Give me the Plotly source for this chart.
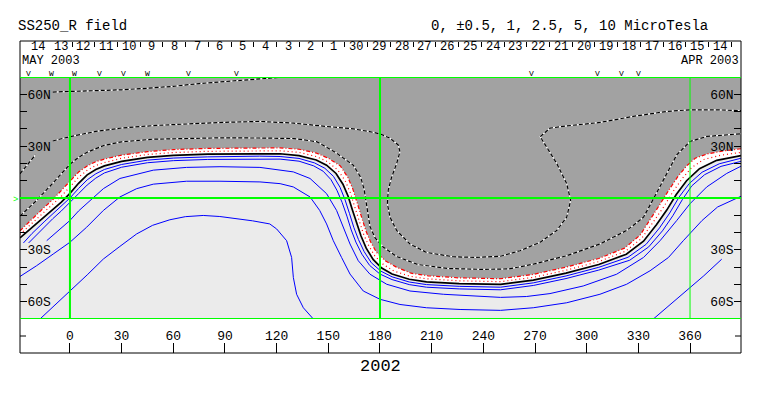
import plotly.graph_objects as go

# ---------------- axes / labels ----------------
LON_RANGE = [-29.0, 389.6]
LAT_RANGE = [-70, 70]
LON_TICKS = list(range(0, 361, 30))
LAT_TICKS = list(range(-70, 71, 10))
LAT_LABELS = {60: "60N", 30: "30N", -30: "30S", -60: "60S"}
GRID_LON = [0, 180, 360]
GRID_LAT = [-70, 0, 70]

DAY_LABELS = ["14", "13", "12", "11", "10", "9", "8", "7", "6", "5", "4", "3", "2", "1",
              "30", "29", "28", "27", "26", "25", "24", "23", "22", "21", "20", "19",
              "18", "17", "16", "15", "14"]
DAY_LON0 = -18.6      # longitude of first day label
DAY_STEP = 13.2       # degrees per day

V_LON = [-24, -10.6, 2.9, 17.4, 31, 45, 69, 96.8, 268, 306.5, 320.3, 330]
V_TXT = ["V", "W", "W", "V", "V", "W", "V", "V", "V", "V", "V", "V"]

# ---------------- contour lines (lon, lat) read from the map ----------------
# 0 (neutral line)
B_LON = [-29, -22, -15, -10, -5, 0, 5, 10, 15, 20, 30, 45, 60, 80, 110, 122, 133, 143, 149,
         154.5, 158.5, 161.5, 164, 166.5, 169, 172, 176, 181, 187, 197, 207, 226, 250, 269,
         288, 307, 323, 333, 340.5, 346.5, 352, 358, 365.5, 375.5, 389.6]
B_LAT = [-23, -17, -11, -6.5, -2.4, 2.7, 8.5, 13.4, 16.5, 18.6, 21.2, 23.5, 24.7, 25.4, 25.8,
         25.6, 24.5, 22, 19, 14.2, 8, 1, -7, -15, -22, -29, -35.5, -40.5, -44, -47, -48.5,
         -49.5, -50, -47.5, -43.5, -38.5, -32.5, -25, -15.5, -7, 2, 10, 17, 21.8, 24.5]

# +1 (outer red, edge of grey)
P1_LON = [-29, -25, -20, -15, -10, -5, 0, 5, 10, 15, 20, 30, 45, 60, 80, 110, 122, 133, 143,
          150, 157, 161.3, 164.3, 166.8, 169.3, 171.8, 174.6, 178, 183, 189.5, 198, 208, 226,
          250, 269, 288, 307, 322, 331, 337, 342, 348, 353, 358, 363, 370, 380, 389.6]
P1_LAT = [-19, -15, -10.5, -5.5, -1, 4.5, 10, 15, 18.5, 21, 22.5, 24.8, 26.8, 28, 28.7, 29.1,
          29, 28.2, 26, 23, 18.5, 12, 5, -3, -11, -19, -25.5, -31.5, -36.3, -40, -43.5, -45,
          -46.2, -46.7, -44.2, -40, -35, -29, -21.5, -12.5, -4.5, 5, 12.5, 18.5, 23, 25.5,
          27.3, 28.5]

# +0.5 (inner red)
P2_LON = [-29, -25, -20, -15, -10, -5, 0, 5, 10, 15, 20, 30, 45, 60, 80, 110, 122, 133, 143,
          149.5, 155.5, 159.8, 162.8, 165.3, 167.8, 170.3, 173.3, 177, 182, 188, 197.5, 207.5,
          226, 250, 269, 288, 307, 322.5, 332, 338.8, 344.3, 350, 355.5, 361, 368, 378, 389.6]
P2_LAT = [-21, -17.3, -12.8, -8, -3.5, 1, 6.5, 12, 16, 18.8, 20.5, 23, 25.2, 26.3, 27, 27.4,
          27.3, 26.4, 24, 21, 16.2, 10, 3, -5, -13, -20.5, -27.3, -33.5, -38.5, -42.2, -45.3,
          -46.8, -47.9, -48.4, -45.9, -41.8, -36.8, -30.8, -23.3, -14, -5.8, 3.5, 11.3, 17.7,
          22.3, 24.8, 26.4]

# -0.5
B1_LON = [-27, -22, -15, -10, -5, 0, 5, 10, 15, 20, 30, 45, 60, 80, 110, 122, 133, 142, 148,
          153, 156.8, 159.7, 162.3, 164.8, 167.5, 170.8, 175, 180.5, 187, 197, 207, 226, 250,
          269, 288, 307, 324, 334.5, 342.3, 348.2, 353.7, 359.5, 367, 377, 389.6]
B1_LAT = [-26, -20.5, -13.8, -9.3, -5, 0, 5.5, 10.5, 14, 16.5, 19.4, 21.9, 23.1, 23.8, 24.2,
          24, 22.9, 20.3, 17.2, 12.5, 6.2, -1, -9, -17, -24, -31, -37.5, -42.3, -45.6, -48.6,
          -50.1, -51.1, -51.6, -49.1, -45.1, -40.1, -34.3, -26.8, -17.3, -8.7, 0.6, 8.3, 14.9,
          19.8, 23]

# -1
B2_LON = [-24, -20, -15, -10, -5, 0, 5, 10, 15, 20, 30, 45, 60, 80, 110, 122, 133, 141.5, 147,
          151.5, 155, 158, 160.8, 163.3, 166, 169.5, 174, 180, 187, 197, 207, 226, 250, 269,
          288, 307, 325, 336, 344, 350, 355.5, 361, 368.5, 378, 389.6]
B2_LAT = [-26, -22, -16.5, -12, -7.5, -2.7, 2.5, 7.5, 11.5, 14.5, 17.8, 20.4, 21.6, 22.3, 22.7,
          22.5, 21.3, 18.6, 15.5, 10.7, 4.5, -2.5, -10.5, -18.5, -25.5, -32.5, -39, -44, -47.2,
          -50.1, -51.6, -52.6, -53.1, -50.6, -46.6, -41.7, -36, -28.3, -19, -10.3, -1, 7, 13.5,
          18.3, 21.2]

# -2.5
B3_LON = [-13.5, -5, 0, 5, 10, 19.4, 29, 48.4, 67.7, 87.1, 110.3, 129.7, 139.4, 149, 154.8,
          158.7, 162.6, 167.4, 174.2, 183.9, 197.4, 216.8, 236.1, 250, 265, 278.7, 298, 317.4,
          333, 342.6, 352.3, 360, 369.7, 381.3, 389.6]
B3_LAT = [-24.7, -17.5, -13, -7.5, -3, 5.4, 11.3, 16.1, 17.7, 18.1, 17.7, 15.1, 11.3, 2.5,
          -7.2, -16.9, -26.6, -36.3, -44.1, -49.9, -53.8, -55.7, -56.7, -57.5, -57, -55.3,
          -50.9, -44.1, -34.4, -24.7, -13, -3.3, 6.4, 14.2, 18.4]

# -5
B4_LON = [-29, -19.4, -9.7, 0, 9.7, 19.4, 29, 38.7, 48.4, 67.7, 87.1, 110.3, 122, 129.7, 139.4,
          145, 149, 152.9, 157.7, 162.6, 170.3, 180, 191.6, 207, 226.5, 250, 269, 288.4, 307.7,
          323.2, 336.8, 347.5, 356.1, 367, 376, 389.6]
B4_LAT = [-45.4, -39.2, -32.4, -25.6, -16.9, -7.2, 0.6, 5.4, 8, 9.7, 9.7, 9.3, 8.3, 6.4, 0.6,
          -7.2, -15, -24.7, -34.4, -44, -53.8, -58.6, -61.6, -63.5, -64.5, -65, -63.5, -60.6,
          -55.7, -49.9, -42.1, -34.4, -24.7, -13, -5.2, 1]

# -10 (two pieces)
B5A_LON = [-17.4, -8, 0, 10, 19.4, 29, 38.7, 48, 58, 67, 77.4, 87, 96.8, 106, 116, 120, 125.8,
           128.7, 129.7, 131.6, 135.5, 141.3]
B5A_LAT = [-70, -61.5, -53.8, -44.5, -35.3, -28, -20.8, -15.8, -12.6, -10.8, -10.1, -10.7, -12,
           -13.2, -15, -17.9, -24.7, -34.4, -46, -55.7, -63.5, -70]
B5B_LON = [338.7, 348, 358, 368, 378.4]
B5B_LAT = [-70, -62, -53.8, -45, -35.4]

# +2.5
D3_LON = [-29, -20, -10, -5, 0, 5, 10, 20, 30, 48, 68, 87, 110, 130, 143.2, 154, 164.5, 168.8,
          170.8, 172.3, 174.2, 177.1, 182, 190, 202, 220, 240, 255, 269, 288.4, 307.7, 323.2,
          333, 338.5, 343, 347, 352.3, 360, 369.7, 389.6]
D3_LAT = [-10.5, -2, 8.5, 14, 19.5, 23.5, 26.5, 30.5, 32.5, 34, 34.6, 34.8, 34.7, 34.4, 32.6,
          26.5, 19, 12, 5, -5, -16.5, -23, -28.5, -34, -38.5, -40.8, -41.3, -41, -38.3, -33.4,
          -26.6, -18.8, -11.1, -1, 7.5, 15, 25, 32.7, 35.6, 37.2]

# +5
D2_LON = [-29, -24.5, -20, None, -10, 0, 15, 30, 50, 70, 90, 110, 130, 149, 164.5, 174, 180,
          185.8, 190.6, 191.6, 189.7, 186.8, 184.8, 184.3, 185.8, 189.7, 197.4, 207, 222.6, 236,
          250, 261.3, 273, 282.6, 288.4, 290.7, 288.4, 282.6, 276.8, 273, 278.7, 288.4, 307.7,
          327, 346.5, 360, 375.5, 389.6]
D2_LAT = [14, 19.5, 25, None, 33, 35.5, 38.5, 40.5, 42, 43, 43.8, 44.3, 43.3, 41.4, 40, 38.4,
          37.1, 34.6, 30.7, 26.8, 20, 12.2, 4.5, -3.3, -11.1, -18.8, -26.6, -31.5, -34, -34.4,
          -33.7, -30.5, -25.6, -18.8, -11.1, -1.4, 8.3, 20, 29.7, 35.5, 40.4, 41.7, 43.7, 47.2,
          50.1, 51, 51, 50.5]

# +10
D1_LON = [-10, 0, 15, 30, 45, 60, 75, 90, 105, 116, 126]
D1_LAT = [61.3, 61.6, 62, 62.6, 63.5, 64.6, 66.2, 67.5, 68.5, 69.3, 70.2]

# ---------------- styles ----------------
GREY = "#a2a2a2"
LIGHT = "#ebebeb"
GREEN = "#00ff00"
BLUE = "#0000ff"
RED = "#ff0000"
FONT = "Liberation Mono"

fig = go.Figure()

# fills: grey above +1 line, white between 0 and +1, light grey elsewhere (plot bg)
fig.add_trace(go.Scatter(x=LON_RANGE, y=[LAT_RANGE[1], LAT_RANGE[1]], mode="lines",
                         line=dict(width=0), hoverinfo="skip"))
fig.add_trace(go.Scatter(x=P1_LON, y=P1_LAT, mode="lines", line=dict(width=0),
                         fill="tonexty", fillcolor=GREY, hoverinfo="skip"))
fig.add_trace(go.Scatter(x=B_LON, y=B_LAT, mode="lines", line=dict(width=0),
                         fill="tonexty", fillcolor="white", hoverinfo="skip"))

# dashed positive contours (black dashes on white)
for lx, ly in [(D1_LON, D1_LAT), (D2_LON, D2_LAT), (D3_LON, D3_LAT)]:
    fig.add_trace(go.Scatter(x=lx, y=ly, mode="lines", line=dict(color="white", width=1.2),
                             connectgaps=False, hoverinfo="skip"))
    fig.add_trace(go.Scatter(x=lx, y=ly, mode="lines",
                             line=dict(color="black", width=1.2, dash="4px,2px"),
                             connectgaps=False, hoverinfo="skip"))

# red contours
fig.add_trace(go.Scatter(x=P1_LON, y=P1_LAT, mode="lines",
                         line=dict(color=RED, width=1.2, dash="4px,2px,1px,2px"), hoverinfo="skip"))
fig.add_trace(go.Scatter(x=P2_LON, y=P2_LAT, mode="lines",
                         line=dict(color=RED, width=1.2, dash="1px,3px"), hoverinfo="skip"))

# blue negative contours
for lx, ly in [(B1_LON, B1_LAT), (B2_LON, B2_LAT), (B3_LON, B3_LAT), (B4_LON, B4_LAT),
               (B5A_LON, B5A_LAT), (B5B_LON, B5B_LAT)]:
    fig.add_trace(go.Scatter(x=lx, y=ly, mode="lines", line=dict(color=BLUE, width=1),
                             hoverinfo="skip"))

# neutral line
fig.add_trace(go.Scatter(x=B_LON, y=B_LAT, mode="lines", line=dict(color="black", width=1.7),
                         hoverinfo="skip"))

# dummy traces so the overlay axes exist
fig.add_trace(go.Scatter(x=[None], y=[None], xaxis="x2", yaxis="y", hoverinfo="skip"))
fig.add_trace(go.Scatter(x=[None], y=[None], xaxis="x", yaxis="y2", hoverinfo="skip"))

day_centers = [DAY_LON0 + i * DAY_STEP for i in range(len(DAY_LABELS))]
day_edges = [c - DAY_STEP / 2 for c in day_centers] + [day_centers[-1] + DAY_STEP / 2]

# pixel helpers (plot area spans y 41..353, x 20..741)
def py(Y):
    return (353 - Y) / 312.0

def px(X):
    return (X - 20) / 721.0

yax = dict(range=LAT_RANGE, domain=[py(319), py(77)], tickmode="array", tickvals=LAT_TICKS,
           ticktext=[LAT_LABELS.get(v, "") for v in LAT_TICKS], ticks="inside", ticklen=7,
           tickcolor="black", ticklabelposition="inside", showgrid=False, zeroline=False,
           showline=False, automargin=False,
           tickfont=dict(family=FONT, size=13, color="black"), fixedrange=True)
yax2 = dict(yax)
yax2.pop("domain")
yax2.update(overlaying="y", side="right")

fig.update_layout(
    width=763, height=396,
    margin=dict(l=20, r=22, t=41, b=43, autoexpand=False),
    paper_bgcolor="white", plot_bgcolor=LIGHT, showlegend=False,
    font=dict(family=FONT, size=13, color="black"),
    xaxis=dict(range=LON_RANGE, anchor="free", position=0, tickmode="array", tickvals=LON_TICKS,
               ticktext=[str(v) for v in LON_TICKS], ticks="inside", ticklen=10, tickcolor="black",
               ticklabelposition="inside", showgrid=False, zeroline=False, showline=False,
               automargin=False, tickfont=dict(family=FONT, size=13, color="black")),
    xaxis2=dict(range=LON_RANGE, overlaying="x", side="top", anchor="free", position=1,
                tickmode="array", tickvals=day_centers, ticks="", showticklabels=False,
                showgrid=False, zeroline=False, showline=False, automargin=False,
                minor=dict(tickmode="array", tickvals=day_edges, ticks="inside", ticklen=5,
                           tickcolor="black", showgrid=False)),
    yaxis=yax,
    yaxis2=yax2,
)

shapes = [dict(type="rect", xref="paper", yref="paper", x0=0, x1=1, y0=0, y1=1,
               line=dict(color="black", width=1), layer="above")]
for la in GRID_LAT:
    shapes.append(dict(type="line", xref="paper", yref="y", x0=0, x1=1, y0=la, y1=la,
                       line=dict(color=GREEN, width=2), layer="above"))
for lo in GRID_LON:
    shapes.append(dict(type="line", xref="x", yref="y", x0=lo, x1=lo, y0=LAT_RANGE[0],
                       y1=LAT_RANGE[1], line=dict(color=GREEN, width=2 if lo < 360 else 1),
                       layer="above"))
shapes.append(dict(type="line", xref="paper", yref="paper", x0=0, x1=px(26), y0=py(336),
                   y1=py(336), line=dict(color="black", width=1)))
shapes.append(dict(type="line", xref="paper", yref="paper", x0=px(735), x1=1, y0=py(336),
                   y1=py(336), line=dict(color="black", width=1)))
fig.update_layout(shapes=shapes)

ann = [
    dict(text="SS250_R field", xref="paper", yref="paper", x=px(16), y=py(26), xanchor="left",
         yanchor="middle", showarrow=False, font=dict(family=FONT, size=14)),
    dict(text="0, ±0.5, 1, 2.5, 5, 10 MicroTesla", xref="paper", yref="paper", x=px(710),
         y=py(26), xanchor="right", yanchor="middle", showarrow=False,
         font=dict(family=FONT, size=14)),
    dict(text="MAY 2003", xref="paper", yref="paper", x=0, y=py(61), xanchor="left",
         yanchor="middle", showarrow=False, font=dict(family=FONT, size=12)),
    dict(text="APR 2003", xref="paper", yref="paper", x=1, y=py(61), xanchor="right",
         yanchor="middle", showarrow=False, font=dict(family=FONT, size=12)),
    dict(text="2002", xref="paper", yref="paper", x=0.5, y=py(366), xanchor="center",
         yanchor="middle", showarrow=False, font=dict(family=FONT, size=17)),
    dict(text=">", xref="paper", yref="paper", x=0, y=py(200), xanchor="right",
         yanchor="middle", showarrow=False, font=dict(family=FONT, size=9, color=GREEN)),
]
for lo, t in zip(day_centers, DAY_LABELS):
    ann.append(dict(text=t, xref="x", yref="paper", x=lo, y=py(47), xanchor="center",
                    yanchor="middle", showarrow=False, font=dict(family=FONT, size=12)))
for lo, t in zip(V_LON, V_TXT):
    ann.append(dict(text=t, xref="x", yref="paper", x=lo, y=py(74), xanchor="center",
                    yanchor="middle", showarrow=False, font=dict(family=FONT, size=8)))
fig.update_layout(annotations=ann)

fig.write_html("out.html", config={"displayModeBar": False},
               post_script="document.body.style.margin='0';document.body.style.overflow='hidden';")
